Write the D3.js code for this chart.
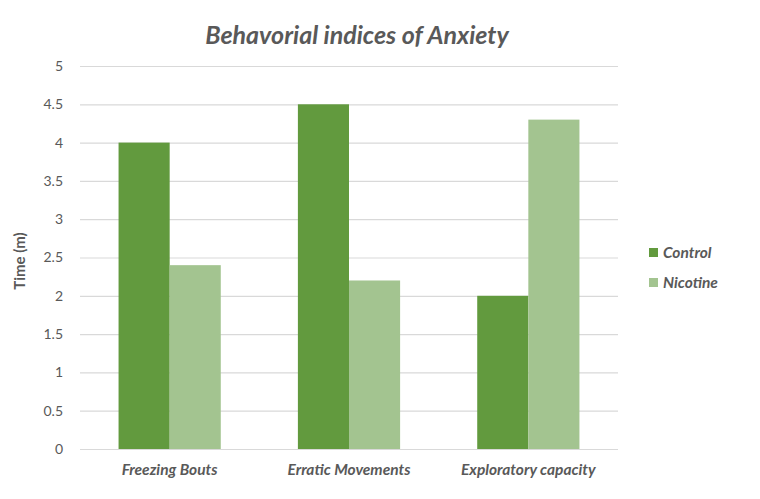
<!DOCTYPE html>
<html>
<head>
<meta charset="utf-8">
<script src="https://cdn.jsdelivr.net/npm/d3@7"></script>
<style>
  body { margin: 0; background: #fff; }
  text { font-family: Lato, "Open Sans", sans-serif; fill: #595959; }
  .grid line { stroke: #d9d9d9; stroke-width: 1.2px; }
  .grid .domain { display: none; }
</style>
</head>
<body>
<svg id="area" width="760" height="499"></svg>
<script>
// chart values
let categories = ["Freezing Bouts", "Erratic Movements", "Exploratory capacity"];
let seriesNames = ["Control", "Nicotine"];
let controlValues = [4, 4.5, 2];
let nicotineValues = [2.4, 2.2, 4.3];
let yTicks = [0, 0.5, 1, 1.5, 2, 2.5, 3, 3.5, 4, 4.5, 5];
let colors = ["#629a3e", "#a3c490"];

let data = categories.map((c, i) => ({cat: c, Control: controlValues[i], Nicotine: nicotineValues[i]}));

let svg = d3.select("#area");

let plotLeft = 80, plotRight = 618, plotTop = 66, plotBottom = 449;

let x0 = d3.scaleBand()
    .domain(categories)
    .range([plotLeft, plotRight])
    .paddingInner(0.43)
    .paddingOuter(0.215);
let x1 = d3.scaleBand()
    .domain(seriesNames)
    .range([0, x0.bandwidth()]);
let yScale = d3.scaleLinear()
    .domain([0, 5])
    .range([plotBottom, plotTop]);

// gridlines
svg.append("g")
    .attr("class", "grid")
    .attr("transform", "translate(" + plotLeft + ",0)")
    .call(d3.axisLeft(yScale).tickValues(yTicks).tickSize(-(plotRight - plotLeft)).tickFormat(""));

// y tick labels
svg.append("g")
    .selectAll("text")
    .data(yTicks)
    .join("text")
    .attr("x", 63)
    .attr("y", d => yScale(d))
    .attr("dy", "0.35em")
    .attr("text-anchor", "end")
    .style("font-size", "14px")
    .text(d => d);

// bars
svg.append("g")
    .selectAll("g")
    .data(data)
    .join("g")
    .attr("transform", d => "translate(" + x0(d.cat) + ",0)")
    .selectAll("rect")
    .data(d => seriesNames.map((s, i) => ({s: s, v: d[s], i: i})))
    .join("rect")
    .attr("x", d => x1(d.s))
    .attr("width", x1.bandwidth())
    .attr("y", d => yScale(d.v))
    .attr("height", d => yScale(0) - yScale(d.v))
    .style("fill", d => colors[d.i]);

// category labels
svg.append("g")
    .selectAll("text")
    .data(categories)
    .join("text")
    .attr("x", d => x0(d) + x0.bandwidth() / 2)
    .attr("y", 475)
    .attr("text-anchor", "middle")
    .style("font-size", "15.5px")
    .style("font-style", "italic")
    .style("font-weight", "bold")
    .text(d => d);

// title
svg.append("text")
    .attr("x", 357)
    .attr("y", 44)
    .attr("text-anchor", "middle")
    .style("font-size", "25px")
    .style("font-style", "italic")
    .style("font-weight", "bold")
    .text("Behavorial indices of Anxiety");

// y axis title
svg.append("text")
    .attr("transform", "translate(25,261) rotate(-90)")
    .attr("text-anchor", "middle")
    .style("font-size", "15px")
    .style("font-weight", "bold")
    .text("Time (m)");

// legend
let legend = svg.append("g")
    .selectAll("g")
    .data(seriesNames)
    .join("g")
    .attr("transform", (d, i) => "translate(649," + (253 + i * 30) + ")");
legend.append("rect")
    .attr("x", 0)
    .attr("y", -5)
    .attr("width", 9)
    .attr("height", 9)
    .style("fill", (d, i) => colors[i]);
legend.append("text")
    .attr("x", 14)
    .attr("dy", "0.35em")
    .style("font-size", "15.5px")
    .style("font-style", "italic")
    .style("font-weight", "bold")
    .text(d => d);
</script>
</body>
</html>
